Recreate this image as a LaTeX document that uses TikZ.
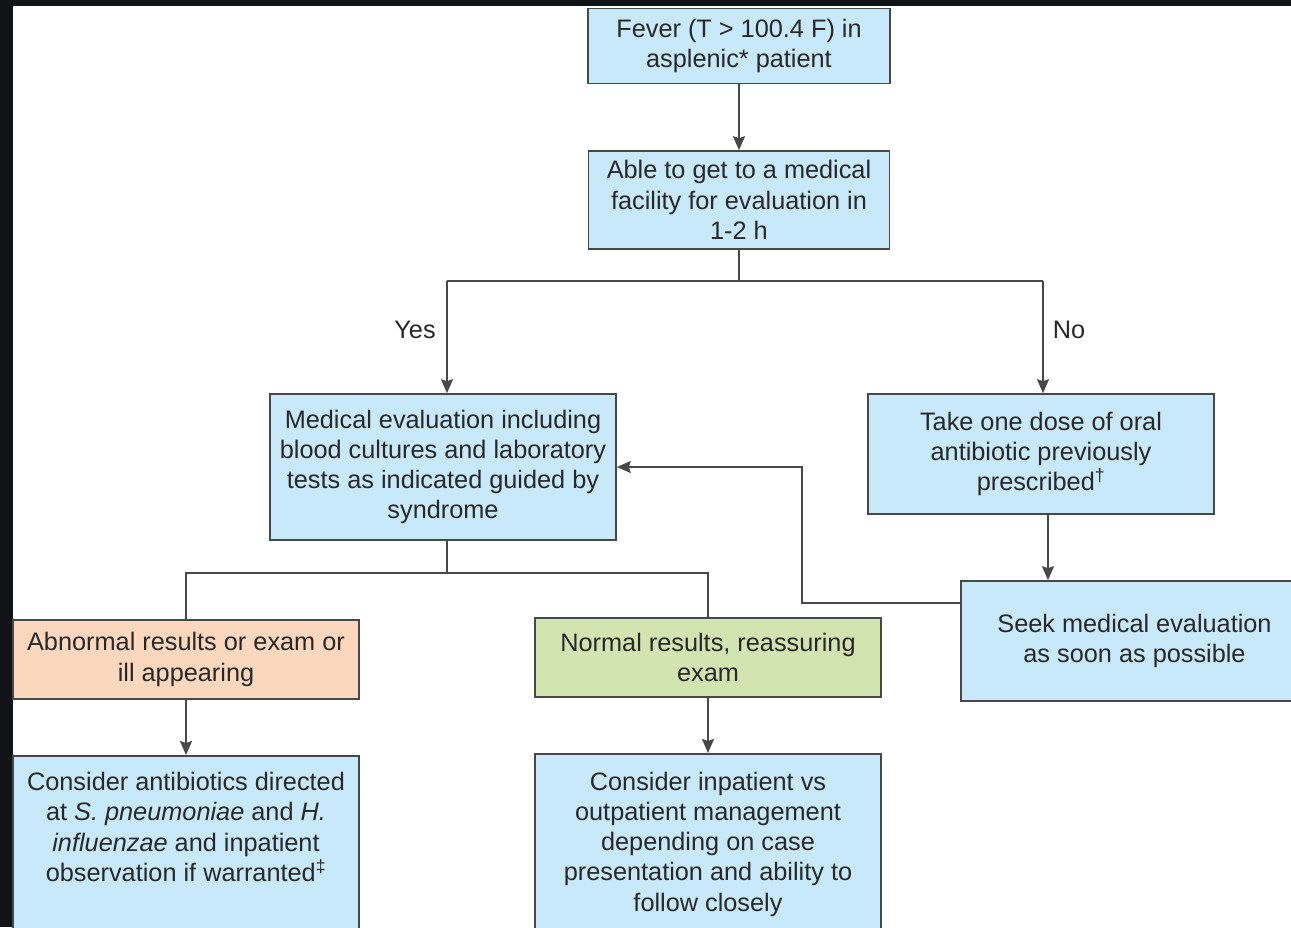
\documentclass[tikz,border=0pt]{standalone}
\usepackage{fontspec}
\setmainfont{Liberation Sans}
\usetikzlibrary{arrows.meta}
\definecolor{bluef}{RGB}{200,233,250}
\definecolor{peach}{RGB}{251,215,190}
\definecolor{greenf}{RGB}{210,228,176}
\definecolor{edgec}{RGB}{72,72,72}
\definecolor{txt}{RGB}{40,40,40}
\definecolor{darkbg}{RGB}{18,19,23}
\begin{document}
\begin{tikzpicture}[x=1pt,y=-1pt,
  box/.style={draw=edgec, line width=1.6pt, text=txt, align=center, inner sep=0pt,
    font=\fontsize{25.3}{30.3}\selectfont},
  bluebox/.style={box, fill=bluef},
  peachbox/.style={box, fill=peach},
  greenbox/.style={box, fill=greenf},
  lbl/.style={text=txt, font=\fontsize{25.3}{30.3}\selectfont, inner sep=0pt},
  ln/.style={draw=edgec, line width=1.8pt},
  arr/.style={ln, -{Stealth[length=14pt,width=12pt,inset=2pt]}}]
\useasboundingbox (0,0) rectangle (1291,927);
\fill[darkbg] (0,0) rectangle (1291,927);
\fill[white] (13,6) rectangle (1291,927);
\begin{scope}
\clip (0,0) rectangle (1291,927);
\node[bluebox, minimum width=302pt, minimum height=75pt] (fever) at (739,46) {Fever (T > 100.4 F) in\\asplenic* patient};
\node[bluebox, minimum width=301pt, minimum height=98pt] (able) at (739,200) {Able to get to a medical\\facility for evaluation in\\1-2 h};
\node[bluebox, minimum width=346pt, minimum height=146pt] (med) at (443,467) {Medical evaluation including\\blood cultures and laboratory\\tests as indicated guided by\\syndrome};
\node[bluebox, minimum width=346pt, minimum height=120pt] (take) at (1041,454) {Take one dose of oral\\antibiotic previously\\prescribed\textsuperscript{\textdagger}};
\node[peachbox, minimum width=346pt, minimum height=79pt] (abn) at (186,659.5) {Abnormal results or exam or\\ill appearing};
\node[greenbox, minimum width=346pt, minimum height=79pt] (norm) at (708,657.5) {Normal results, reassuring\\exam};
\node[bluebox, minimum width=347pt, minimum height=120pt] (seek) at (1134.5,641) {Seek medical evaluation\\as soon as possible};
\node[bluebox, anchor=north] (cab) at (186,755) {\begin{minipage}[t][220pt][t]{346pt}\centering\vspace*{13.5pt}\strut Consider antibiotics directed\\at \textit{S. pneumoniae} and \textit{H.}\\\textit{influenzae} and inpatient\\observation if warranted\textsuperscript{\textdaggerdbl}\end{minipage}};
\node[bluebox, anchor=north] (cin) at (708,753) {\begin{minipage}[t][220pt][t]{346pt}\centering\vspace*{15pt}\strut Consider inpatient vs\\outpatient management\\depending on case\\presentation and ability to\\follow closely\end{minipage}};
\node[lbl] (yes) at (415,330) {Yes};
\node[lbl] (no) at (1069,330) {No};
\coordinate (j1) at (739,281);
\coordinate (yx) at (447,281);
\coordinate (nx) at (1043,281);
\coordinate (j2) at (447,573);
\coordinate (xs) at (1048,0);
\coordinate (fb1) at (802,603);
\coordinate (fb2) at (802,466);
\draw[arr] (fever) -- (able);
\draw[ln] (able.south) -- (j1);
\draw[ln] (yx) -- (nx);
\draw[arr] (yx) -- (yx |- med.north);
\draw[arr] (nx) -- (nx |- take.north);
\draw[ln] (med.south -| j2) -- (j2);
\draw[ln] (abn.north) |- (j2) -| (norm.north);
\draw[arr] (abn) -- (cab);
\draw[arr] (norm) -- (cin);
\draw[arr] (take.south -| xs) -- (seek.north -| xs);
\draw[arr] (fb1 -| seek.west) -- (fb1) -- (fb2 |- med.east) -- (med.east);
\end{scope}
\end{tikzpicture}
\end{document}
